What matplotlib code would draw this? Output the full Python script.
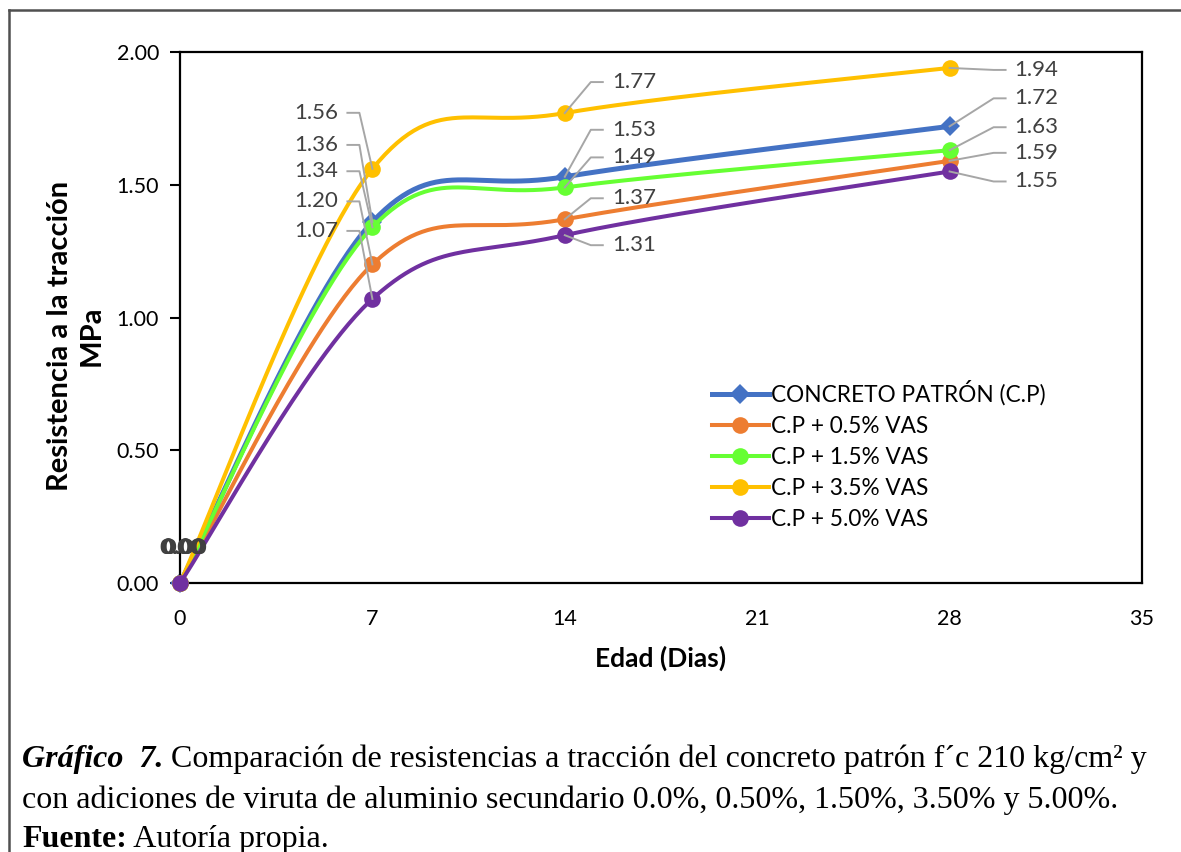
import numpy as np
import matplotlib
matplotlib.use('Agg')
import matplotlib.pyplot as plt
from matplotlib.lines import Line2D
from matplotlib.transforms import IdentityTransform

# ---- data: tensile strength (MPa) vs age (days) ----
DIAS = [0, 7, 14, 28]
SERIES = ['CONCRETO PATRÓN (C.P)', 'C.P + 0.5% VAS', 'C.P + 1.5% VAS',
          'C.P + 3.5% VAS', 'C.P + 5.0% VAS']
CP = [0.00, 1.36, 1.53, 1.72]
VAS_05 = [0.00, 1.20, 1.37, 1.59]
VAS_15 = [0.00, 1.34, 1.49, 1.63]
VAS_35 = [0.00, 1.56, 1.77, 1.94]
VAS_50 = [0.00, 1.07, 1.31, 1.55]
X_TICKS = [0, 7, 14, 21, 28, 35]
Y_TICKS = [0.0, 0.5, 1.0, 1.5, 2.0]

COLORS = ['#4472C4', '#ED7D31', '#66FF33', '#FFC000', '#7030A0']
MARKERS = ['D', 'o', 'o', 'o', 'o']

# label offsets (pixels, screen-down positive) per point index, per series
LABEL_OFFSETS = {
    0: [(4, -35), (-34, -77), (47, -47), (65, -28)],
    1: [(2, -35), (-34, -63), (47, -21), (65, -8)],
    2: [(5, -35), (-34, -56), (47, -30), (65, -23)],
    3: [(3, -36), (-34, -56), (47, -31), (65, 2)],
    4: [(1, -35), (-34, -68), (47, 10), (65, 10)],
}

W, H = 1181, 852
FONT = 'Lato'
SERIF = 'Liberation Serif'


def excel_smooth(ax, xs, ys, n=60):
    """Excel-style smoothed line: cubic Bezier through points, tension 1/6, in screen space."""
    pts = ax.transData.transform(np.column_stack([xs, ys]))
    m = len(pts)
    out = [pts[0]]
    t = np.linspace(0, 1, n)[1:, None]
    for i in range(m - 1):
        p0, p1 = pts[max(i - 1, 0)], pts[i]
        p2, p3 = pts[i + 1], pts[min(i + 2, m - 1)]
        c1 = p1 + (p2 - p0) / 6
        c2 = p2 - (p3 - p1) / 6
        seg = (1 - t) ** 3 * p1 + 3 * (1 - t) ** 2 * t * c1 + 3 * (1 - t) * t ** 2 * c2 + t ** 3 * p2
        out.extend(seg)
    return ax.transData.inverted().transform(np.array(out))


fig = plt.figure(figsize=(W / 100, H / 100), dpi=100)
ax = fig.add_axes([180 / W, 1 - 583 / H, (1142 - 180) / W, (583 - 52) / H])
ax.set_xlim(0, 35)
ax.set_ylim(0, 2.0)

data = [CP, VAS_05, VAS_15, VAS_35, VAS_50]
handles = []
for k, (vals, col, mk) in enumerate(zip(data, COLORS, MARKERS)):
    curve = excel_smooth(ax, DIAS, vals)
    lw = 3.6 if k == 0 else 2.9
    ax.plot(curve[:, 0], curve[:, 1], color=col, lw=lw, solid_capstyle='round',
            zorder=2 + k, clip_on=False)
    ms = 10 if mk == 'D' else 12
    ax.plot(DIAS, vals, linestyle='none', marker=mk, ms=ms, color=col,
            markeredgewidth=0, zorder=2 + k, clip_on=False)
    handles.append(Line2D([], [], color=col, lw=lw, marker=mk, ms=ms, markeredgewidth=0))

# data labels with leader lines
ident = IdentityTransform()
for k, vals in enumerate(data):
    for j, (x, v) in enumerate(zip(DIAS, vals)):
        px, py = ax.transData.transform((x, v))
        dx, dy = LABEL_OFFSETS[k][j]
        tx, ty = px + dx, py - dy
        if j == 0:
            ha = 'center'
        elif dx < 0:
            ha = 'right'
        else:
            ha = 'left'
        fig.text(tx, ty, f'{v:.2f}', transform=ident, ha=ha, va='center',
                 fontsize=16, family=FONT, color='#404040', zorder=10)
        if j == 0:
            continue
        side = -1 if dx < 0 else 1
        s0 = tx - side * 9
        s1 = tx - side * 21
        leader = Line2D([s0, s1, px], [ty, ty, py], transform=ident,
                        color='#A6A6A6', lw=1.4, zorder=9)
        fig.add_artist(leader)

ax.set_xticks(X_TICKS)
ax.set_yticks(Y_TICKS)
ax.set_yticklabels([f'{v:.2f}' for v in Y_TICKS])
ax.tick_params(axis='x', length=0, pad=19, labelsize=15.5)
ax.tick_params(axis='y', length=7, width=1.5, direction='out', pad=8, labelsize=15.5)
for lab in ax.get_xticklabels() + ax.get_yticklabels():
    lab.set_family(FONT)
for sp in ax.spines.values():
    sp.set_linewidth(1.6)
    sp.set_color('black')

ax.set_xlabel('Edad (Dias)', fontsize=19, fontweight='bold', family=FONT, labelpad=12)
ax.set_ylabel('Resistencia a la tracción\nMPa', fontsize=21, fontweight='bold',
              family=FONT, linespacing=1.3)
ax.yaxis.set_label_coords(-0.078, 0.465)

leg = ax.legend(handles, SERIES, loc='upper left',
                bbox_to_anchor=((703 - 180) / (1142 - 180), (583 - 371) / (583 - 52)),
                frameon=False, handlelength=2.5, handletextpad=0.1,
                labelspacing=0.45, borderaxespad=0,
                prop={'family': FONT, 'size': 16.3})

# outer frame around the figure block
fig.add_artist(Line2D([9 / W, 1], [1 - 10 / H, 1 - 10 / H], transform=fig.transFigure,
                      color='#505050', lw=1.8))
fig.add_artist(Line2D([9 / W, 9 / W], [0, 1 - 10 / H], transform=fig.transFigure,
                      color='#505050', lw=1.8))

# caption, written piece by piece to mix styles
renderer = fig.canvas.get_renderer()


def caption(pieces, x0, y):
    x = x0
    for txt, weight, style in pieces:
        t = fig.text(x, y, txt, transform=ident, ha='left', va='baseline',
                     fontsize=23, family=SERIF, fontweight=weight, fontstyle=style)
        x = t.get_window_extent(renderer).x1


caption([('Gráfico  7.', 'bold', 'italic'),
         (' Comparación de resistencias a tracción del concreto patrón f´c 210 kg/cm² y',
          'normal', 'normal')], 22, H - 767)
caption([('con adiciones de viruta de aluminio secundario 0.0%, 0.50%, 1.50%, 3.50% y 5.00%.',
          'normal', 'normal')], 22, H - 808)
caption([('Fuente:', 'bold', 'normal'), (' Autoría propia.', 'normal', 'normal')], 22, H - 847)

fig.savefig('out.png', dpi=100)
